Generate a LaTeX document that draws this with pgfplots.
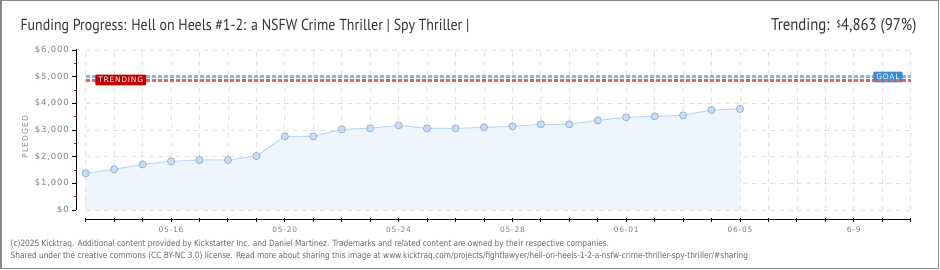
\documentclass[border=0pt]{standalone}
\usepackage{pgfplots}
\pgfplotsset{compat=1.18}
\usepackage{fontspec}
\setmainfont{DejaVu Sans}
\newfontfamily\titlefont[FakeStretch=0.87]{PT Sans}
\newfontfamily\footfont[FakeStretch=0.86]{DejaVu Sans}
\newfontfamily\tickfont[LetterSpace=10]{DejaVu Sans}
\definecolor{ticklab}{HTML}{808080}
\definecolor{titlec}{HTML}{333333}
\definecolor{gridc}{HTML}{E2E2E2}
\definecolor{areac}{HTML}{EEF5FD}
\definecolor{linec}{HTML}{BBD7F5}
\definecolor{markf}{HTML}{C5DDF8}
\definecolor{markd}{HTML}{95AECB}
\definecolor{goalc}{HTML}{8DB3E0}
\definecolor{trendc}{HTML}{D26A6A}
\definecolor{trendbox}{HTML}{C00000}
\definecolor{goalbox}{HTML}{3C89D6}
\definecolor{footc}{HTML}{666666}
\definecolor{framec}{HTML}{8A8A8A}
\begin{document}
\begin{tikzpicture}[x=1pt,y=1pt]
\path[use as bounding box] (0,0) rectangle (940,270);
\clip (0,0) rectangle (940,270);
\fill[white] (0,0) rectangle (940,270);
\begin{axis}[
  at={(85.7pt,60pt)}, anchor=south west,
  scale only axis, width=825pt, height=160pt,
  xmin=0, xmax=29, ymin=0, ymax=6000,
  axis x line*=bottom, axis y line*=left,
  axis x line shift=10pt, axis y line shift=9.4pt,
  xtick={0,...,29},
  xticklabels={,,,05-16,,,,05-20,,,,05-24,,,,05-28,,,,06-01,,,,06-05,,,,6-9,,},
  ytick={0,1000,...,6000},
  yticklabels={\$0,{\$1,000},{\$2,000},{\$3,000},{\$4,000},{\$5,000},{\$6,000}},
  minor ytick={500,1500,...,5500},
  grid=major,
  major grid style={gridc, dashed, dash pattern=on 5pt off 4pt, line width=0.8pt},
  x tick style={black, line width=0.9pt},
  y tick style={black, line width=0.9pt},
  xtick align=center, ytick align=outside,
  major tick length=4pt, minor tick length=2.5pt,
  minor y tick style={red, line width=0.9pt},
  axis line style={black, line width=1pt},
  xticklabel style={font=\tickfont\fontsize{7.5}{8}\selectfont, text=ticklab, yshift=-1pt},
  yticklabel style={font=\tickfont\fontsize{8.5}{9}\selectfont, text=ticklab},
  ylabel={P\,L\,E\,D\,G\,E\,D},
  ylabel style={font=\fontsize{7.5}{8}\selectfont, text=ticklab, xshift=-7pt},
  clip=false,
]
\addplot[fill=areac, draw=none] coordinates {
(0,1375)(1,1525)(2,1710)(3,1825)(4,1875)(5,1875)(6,2025)(7,2763)(8,2763)(9,3025)(10,3063)(11,3175)(12,3063)(13,3063)(14,3100)(15,3138)(16,3213)(17,3213)(18,3363)(19,3475)(20,3513)(21,3550)(22,3750)(23,3788)
} \closedcycle;
\addplot[goalc, line width=2.4pt, dash pattern=on 4pt off 2pt] coordinates {(0,5000)(29,5000)};
\node[fill=goalbox, text=white, font=\tickfont\fontsize{7.5}{8}\selectfont, inner xsep=3pt, inner ysep=2.5pt, rounded corners=1pt] at (axis cs:28.2,4990) {GOAL};
\addplot[trendc, line width=2.4pt, dash pattern=on 4pt off 2pt] coordinates {(0,4863)(29,4863)};
\addplot[linec, line width=1pt, mark=*, mark size=3.6pt, mark options={fill=markf, draw=markd, line width=0.7pt}] coordinates {
(0,1375)(1,1525)(2,1710)(3,1825)(4,1875)(5,1875)(6,2025)(7,2763)(8,2763)(9,3025)(10,3063)(11,3175)(12,3063)(13,3063)(14,3100)(15,3138)(16,3213)(17,3213)(18,3363)(19,3475)(20,3513)(21,3550)(22,3750)(23,3788)
};
\node[fill=trendbox, text=white, font=\tickfont\fontsize{7.5}{8}\selectfont, inner xsep=3pt, inner ysep=2.5pt, rounded corners=1pt] at (axis cs:1.23,4875) {TRENDING};
\end{axis}
\fill[black] (75.8,59.5) rectangle (77.2,220.5);
\node[anchor=base west, font=\titlefont\fontsize{16}{18}\selectfont, text=titlec] at (17,239.3) {Funding Progress: Hell on Heels \#1-2: a NSFW Crime Thriller | Spy Thriller |};
\node[anchor=base east, font=\titlefont\fontsize{17}{18}\selectfont, text=titlec] at (920,239.3) {Trending:\hspace{7pt}\raisebox{3.5pt}{\fontsize{9.5}{10}\selectfont\$}4,863 (97\%)};
\node[anchor=base west, font=\footfont\fontsize{8.6}{9}\selectfont, text=footc, inner sep=0pt] at (10.5,23.5) {(c)2025 Kicktraq. Additional content provided by Kickstarter Inc. and Daniel Martinez. Trademarks and related content are owned by their respective companies.};
\node[anchor=base west, font=\footfont\fontsize{8.6}{9}\selectfont, text=footc, inner sep=0pt] at (10.5,11.3) {Shared under the creative commons (CC BY-NC 3.0) license. Read more about sharing this image at www.kicktraq.com/projects/fightlawyer/hell-on-heels-1-2-a-nsfw-crime-thriller-spy-thriller/\#sharing};
\draw[framec, line width=1.5pt] (0.75,1.5) rectangle (938.5,269.25);
\end{tikzpicture}
\end{document}
